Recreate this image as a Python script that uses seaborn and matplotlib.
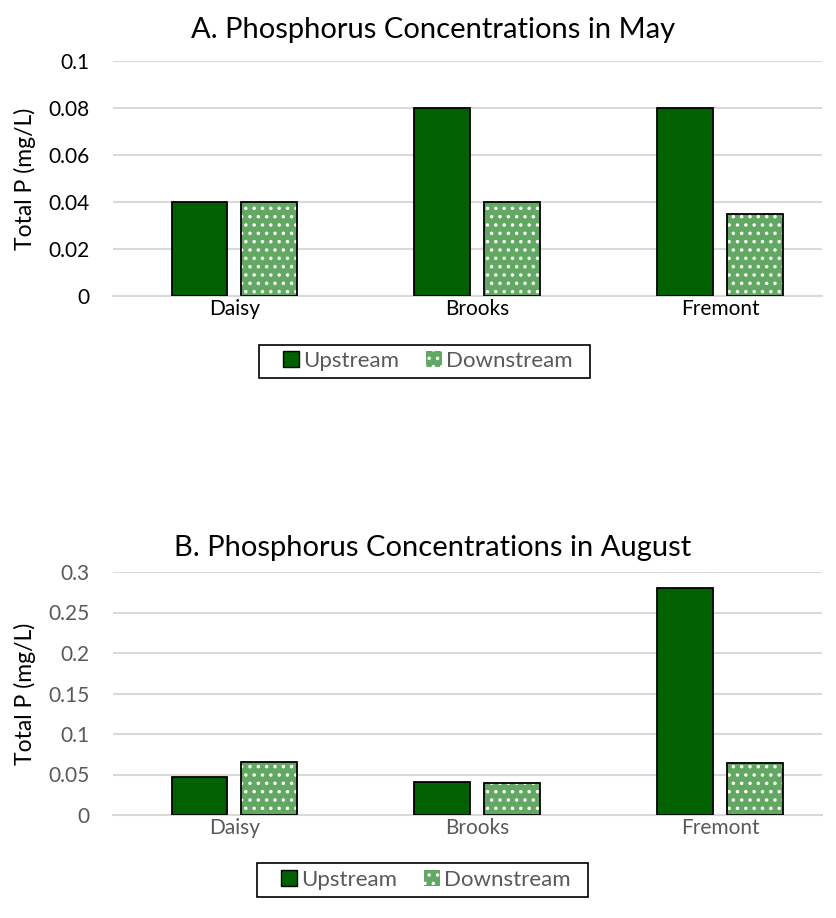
import pandas as pd
import numpy as np
import matplotlib.pyplot as plt
import seaborn as sns
from matplotlib.patches import Patch, Rectangle

# data
sites = ["Daisy", "Brooks", "Fremont"]
positions = ["Upstream", "Downstream"]
may_up = [0.04, 0.08, 0.08]
may_down = [0.04, 0.04, 0.035]
aug_up = [0.047, 0.041, 0.28]
aug_down = [0.066, 0.039, 0.064]

may_ticks = [0, 0.02, 0.04, 0.06, 0.08, 0.1]
may_ticklabels = ["0", "0.02", "0.04", "0.06", "0.08", "0.1"]
aug_ticks = [0, 0.05, 0.1, 0.15, 0.2, 0.25, 0.3]
aug_ticklabels = ["0", "0.05", "0.1", "0.15", "0.2", "0.25", "0.3"]

DARK = "#006100"
LIGHT = "#62a862"
GREY = "#595959"

sns.set_style("white")
plt.rcParams['font.family'] = ['Lato', 'DejaVu Sans']
plt.rcParams['hatch.linewidth'] = 1.3

W, H = 836, 918


def make_df(up, down):
    return pd.DataFrame({
        "Site": sites * 2,
        "Position": ["Upstream"] * 3 + ["Downstream"] * 3,
        "P": list(up) + list(down),
    })


fig = plt.figure(figsize=(W / 100, H / 100), dpi=100)
axA = fig.add_axes([113 / W, 1 - 296 / H, 709 / W, 235 / H])
axB = fig.add_axes([113 / W, 1 - 815 / H, 709 / W, 243 / H])


def frame_box(x0, x1, y0, y1):
    # legend border, figure pixel coords
    fig.patches.append(Rectangle((x0 / W, 1 - y1 / H), (x1 - x0) / W, (y1 - y0) / H,
                                 transform=fig.transFigure, fill=False,
                                 edgecolor="black", linewidth=1.2))


def draw(ax, up, down, ticks, ticklabels, tick_color, title, title_y, leg_x, leg_y):
    df = make_df(up, down)
    sns.barplot(data=df, x="Site", y="P", hue="Position", order=sites,
                hue_order=positions, palette=[DARK, LIGHT], saturation=1,
                width=0.576, gap=0.2, edgecolor="black", linewidth=1.3,
                ax=ax, legend=False, zorder=3)
    # downstream bars: patterned fill, black outline drawn on top
    for p in ax.patches[3:6]:
        p.set_hatch("..")
        p.set_edgecolor("white")
        p.set_linewidth(0)
        ax.add_patch(Rectangle((p.get_x(), p.get_y()), p.get_width(), p.get_height(),
                               fill=False, edgecolor="black", linewidth=1.3, zorder=4))
    ax.set_ylim(0, ticks[-1])
    ax.set_yticks(ticks)
    ax.set_yticklabels(ticklabels)
    ax.set_xlim(-0.5, 2.418)
    ax.yaxis.grid(True, color="#d9d9d9", linewidth=1.5, zorder=0)
    ax.set_axisbelow(True)
    for s in ["top", "right", "left"]:
        ax.spines[s].set_visible(False)
    ax.spines["bottom"].set_color("#d9d9d9")
    ax.spines["bottom"].set_linewidth(1.5)
    ax.tick_params(axis="x", length=0, labelsize=15, colors=tick_color, pad=2)
    ax.tick_params(axis="y", length=0, labelsize=15, colors=tick_color, pad=17)
    ax.set_xlabel("")
    ax.set_ylabel("Total P (mg/L)", fontsize=16.5, color="black", labelpad=9)
    fig.text(0.518, title_y, title, ha="center", va="center", fontsize=21, color="black")
    handles = [Patch(facecolor=DARK, edgecolor="black", linewidth=1),
               Patch(facecolor=LIGHT, edgecolor="white", hatch="..", linewidth=0)]
    leg = fig.legend(handles, positions, loc="center",
                     bbox_to_anchor=(leg_x / W, 1 - leg_y / H),
                     ncol=2, frameon=False, fontsize=16, handlelength=0.72,
                     handleheight=0.72, handletextpad=0.2, columnspacing=1.2,
                     borderpad=0, borderaxespad=0)
    for t in leg.get_texts():
        t.set_color(GREY)


draw(axA, may_up, may_down, may_ticks, may_ticklabels, "black",
     "A. Phosphorus Concentrations in May", 1 - 30 / H, 428, 361)
frame_box(259, 590, 345, 378)
draw(axB, aug_up, aug_down, aug_ticks, aug_ticklabels, GREY,
     "B. Phosphorus Concentrations in August", 1 - 548 / H, 426, 880)
frame_box(257, 588, 863, 897)

fig.savefig("out.png", dpi=100)
